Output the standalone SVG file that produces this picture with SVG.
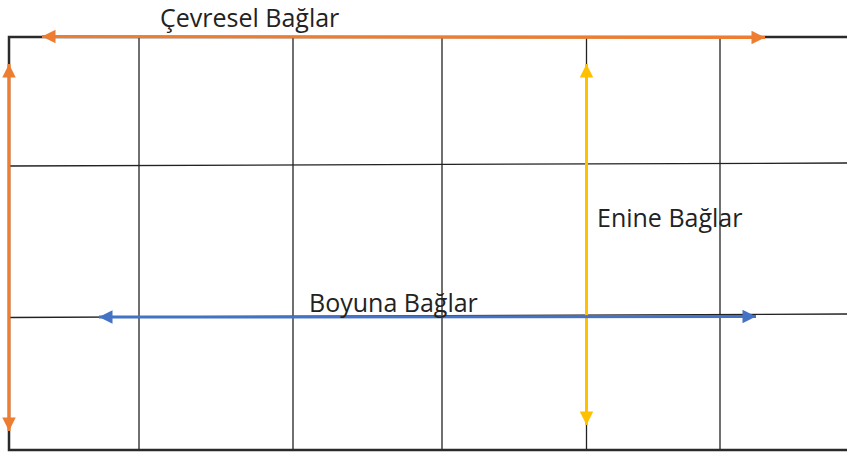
<svg xmlns="http://www.w3.org/2000/svg" width="847" height="454" viewBox="0 0 847 454">
<style>
.grid{stroke:#222;stroke-width:1.3;fill:none}
.border{stroke:#2a2a2a;stroke-width:2.5;fill:none}
.lbl{font-family:"Open Sans","Liberation Sans",sans-serif;font-size:25px;fill:#222}
</style>
<defs>
<marker id="ao" viewBox="0 0 10 10" refX="10" refY="5" markerWidth="5" markerHeight="4.5" markerUnits="strokeWidth" orient="auto-start-reverse"><path d="M0,0L10,5L0,10z" fill="#ED7D31"/></marker>
<marker id="ay" viewBox="0 0 10 10" refX="10" refY="5" markerWidth="5" markerHeight="4.5" markerUnits="strokeWidth" orient="auto-start-reverse"><path d="M0,0L10,5L0,10z" fill="#FFC000"/></marker>
<marker id="ab" viewBox="0 0 10 10" refX="10" refY="5" markerWidth="5" markerHeight="4.5" markerUnits="strokeWidth" orient="auto-start-reverse"><path d="M0,0L10,5L0,10z" fill="#4472C4"/></marker>
</defs>
<rect width="847" height="454" fill="#fff"/>
<g id="grid">
<line class="grid" x1="139" y1="37" x2="139" y2="450"/>
<line class="grid" x1="293" y1="37" x2="293" y2="450"/>
<line class="grid" x1="442" y1="37" x2="442" y2="450"/>
<line class="grid" x1="586.5" y1="37" x2="586.5" y2="450"/>
<line class="grid" x1="720" y1="37" x2="720" y2="450"/>
<line class="grid" x1="9" y1="166" x2="847" y2="163"/>
<line class="grid" x1="9" y1="317.5" x2="847" y2="314"/>
<path class="border" d="M847,37H9V450H847"/>
</g>
<g id="connectors">
<line x1="42" y1="36.5" x2="765" y2="37.5" stroke="#ED7D31" stroke-width="3" marker-start="url(#ao)" marker-end="url(#ao)"/>
<line x1="9" y1="64" x2="9" y2="431" stroke="#ED7D31" stroke-width="3" marker-start="url(#ao)" marker-end="url(#ao)"/>
<line x1="586.5" y1="64" x2="586.5" y2="425" stroke="#FFC000" stroke-width="3" marker-start="url(#ay)" marker-end="url(#ay)"/>
<line x1="99" y1="317" x2="756" y2="316.5" stroke="#4472C4" stroke-width="3" marker-start="url(#ab)" marker-end="url(#ab)"/>
</g>
<g id="labels">
<text class="lbl" x="160" y="27">Çevresel Bağlar</text>
<text class="lbl" x="597" y="227">Enine Bağlar</text>
<text class="lbl" x="309" y="312">Boyuna Bağlar</text>
</g>
</svg>
